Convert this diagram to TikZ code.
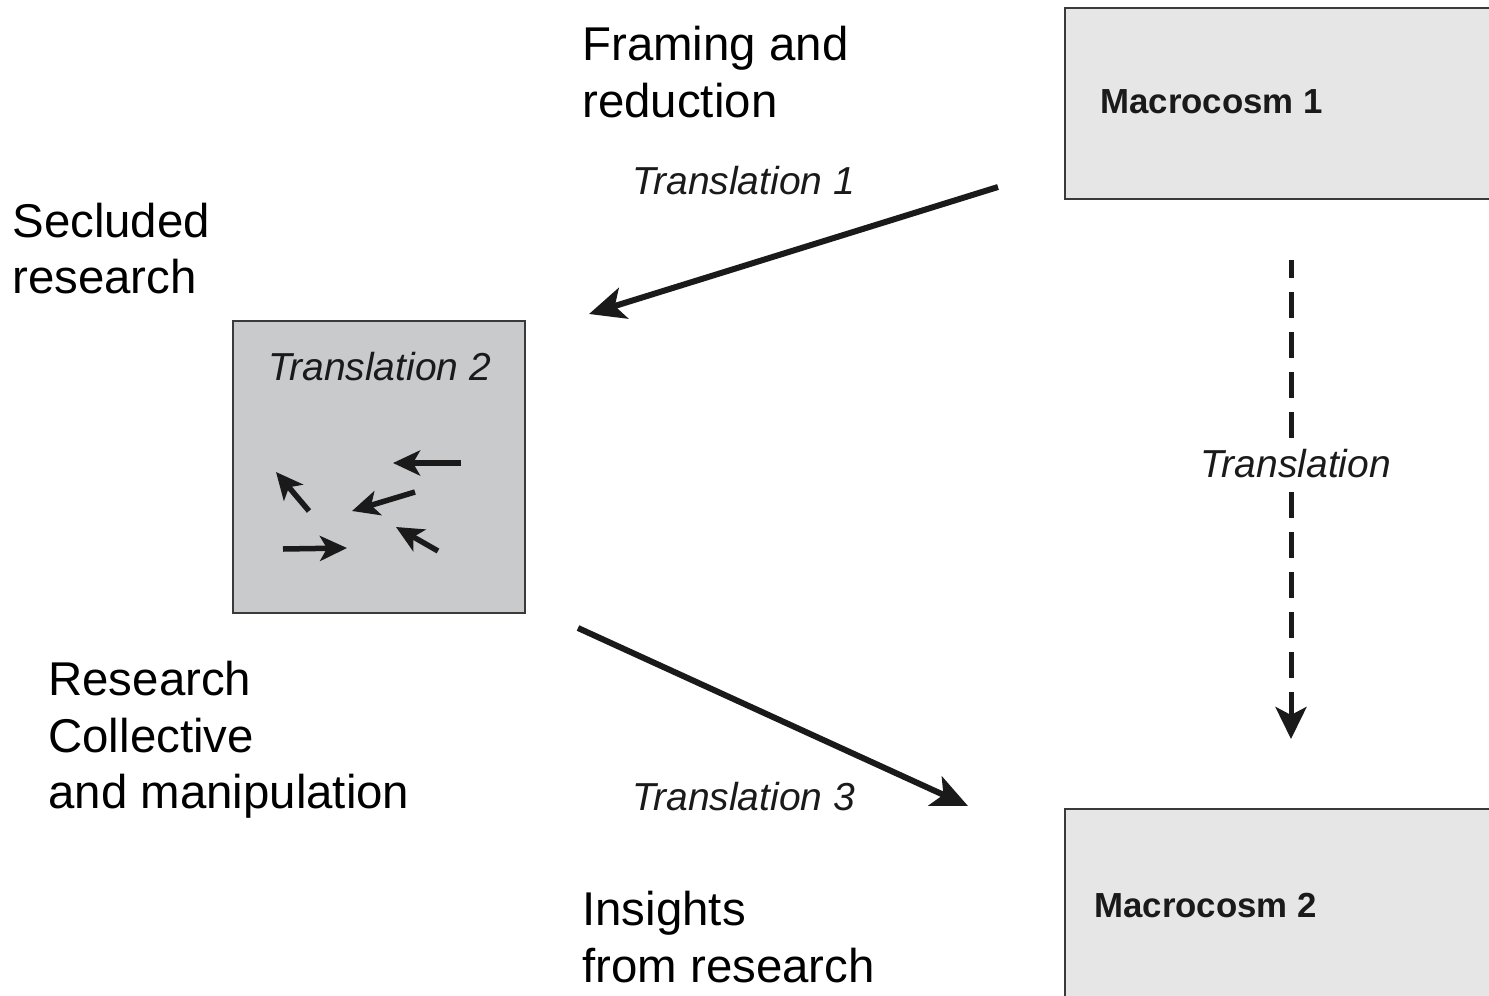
\documentclass[tikz,border=0pt]{standalone}
\usepackage{fontspec}
\setmainfont{Liberation Sans}
\usetikzlibrary{arrows.meta}
\definecolor{macfill}{HTML}{E6E6E6}
\definecolor{labfill}{HTML}{C9CACC}
\definecolor{edgecol}{HTML}{3A3A3A}
\definecolor{ink}{HTML}{1A1A1A}
\begin{document}
\begin{tikzpicture}[x=0.5pt,y=-0.5pt,
  bigtext/.style={anchor=base west,inner sep=0pt,font=\fontsize{23.7pt}{28pt}\selectfont,text=black},
  itext/.style={inner sep=0pt,font=\fontsize{19.5pt}{23pt}\selectfont\itshape,text=ink},
  btext/.style={anchor=base west,inner sep=0pt,font=\fontsize{17.4pt}{20pt}\selectfont\bfseries,text=ink},
  boxstyle/.style={draw=edgecol,line width=1pt,anchor=north west,inner sep=0pt},
  bigarrow/.style={draw=ink,line width=3pt,-{Stealth[length=18pt,width=16pt,inset=4.5pt]}},
  dasharrow/.style={draw=ink,line width=2.5pt,dash pattern=on 13pt off 7pt,dash phase=4pt,-{Stealth[length=16pt,width=15.5pt,inset=4pt]}},
  smallarrow/.style={draw=ink,line width=2.75pt,-{Stealth[length=13.5pt,width=12.5pt,inset=3.5pt]}}]
\useasboundingbox (0,0) rectangle (1489,996);
\clip (0,0) rectangle (1489,996);
\fill[white] (0,0) rectangle (1489,996);

% boxes
\node[boxstyle,fill=macfill,minimum width=220pt,minimum height=95.5pt] (m1) at (1064,7) {};
\node[btext] (m1t) at (1100,113) {Macrocosm 1};
\node[boxstyle,fill=macfill,minimum width=220pt,minimum height=110pt] (m2) at (1064,808) {};
\node[btext] (m2t) at (1094,917) {Macrocosm 2};
\node[boxstyle,fill=labfill,minimum width=146pt,minimum height=146pt] (lab) at (232,320) {};
\node[itext,anchor=base west] (t2) at (268,380) {Translation 2};

% small arrows inside the lab
\draw[smallarrow] (461,463) -- (393,463);
\draw[smallarrow] (415,492) -- (352,511);
\draw[smallarrow] (309,511) -- (276,472);
\draw[smallarrow] (283,549) -- (347,548);
\draw[smallarrow] (438,551) -- (396,527);

% main connectors
\coordinate (t1s) at (998,187);
\coordinate (t1e) at (589,314);
\draw[bigarrow] (t1s) -- (t1e);
\coordinate (t3s) at (578,628);
\coordinate (t3e) at (968,806);
\draw[bigarrow] (t3s) -- (t3e);
\coordinate (ds) at (1291,260);
\coordinate (de) at (1291,739);
\draw[dasharrow] (ds) -- (de);
\node[itext,anchor=base,fill=white,inner ysep=4pt] (tl) at (1296,477) {Translation};

% italic labels
\node[itext,anchor=base west] (t1) at (632,194) {Translation 1};
\node[itext,anchor=base west] (t3) at (632,810) {Translation 3};

% big labels
\node[bigtext] (fr1) at (582,60) {Framing and};
\node[bigtext] (fr2) at (582,117) {reduction};
\node[bigtext] (se1) at (12,237) {Secluded};
\node[bigtext] (se2) at (12,293) {research};
\node[bigtext] (rc1) at (48,695) {Research};
\node[bigtext] (rc2) at (48,752) {Collective};
\node[bigtext] (rc3) at (48,808) {and manipulation};
\node[bigtext] (in1) at (582,925) {Insights};
\node[bigtext] (in2) at (582,982) {from research};
\end{tikzpicture}
\end{document}
